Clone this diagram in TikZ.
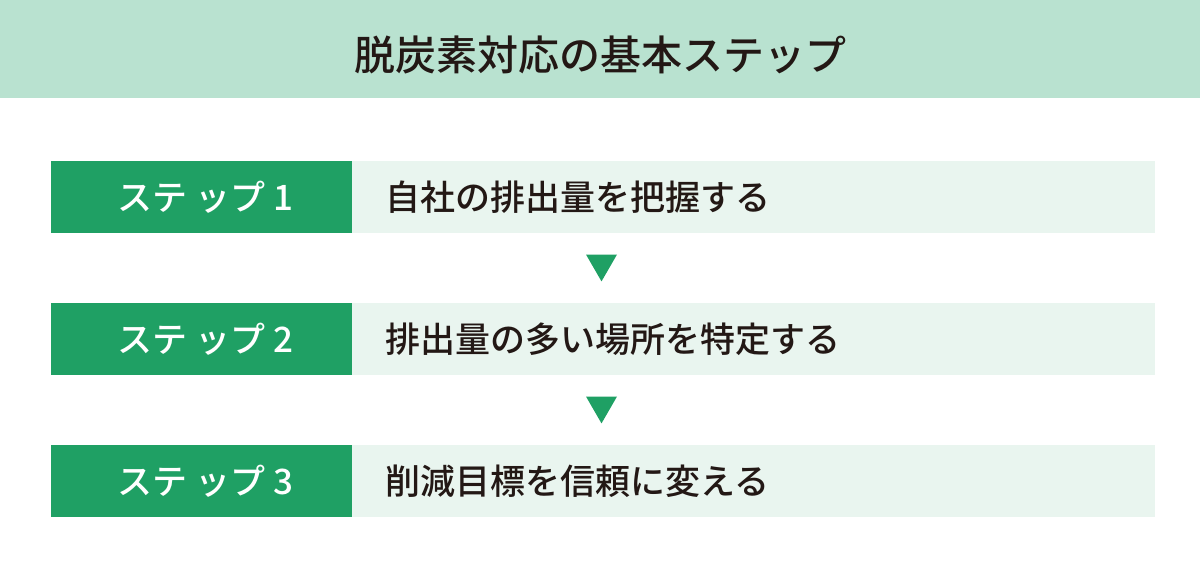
\documentclass[tikz,border=0pt]{standalone}
\usepackage{fontspec}
\setmainfont{Noto Sans CJK JP}[UprightFont=* Medium, BoldFont=* Bold]
\usetikzlibrary{positioning,shapes.geometric}

\definecolor{headgreen}{HTML}{B9E2D0}
\definecolor{stepgreen}{HTML}{1FA064}
\definecolor{palegreen}{HTML}{E9F5EF}
\definecolor{inkdark}{HTML}{231815}

\tikzset{
  stepbox/.style={fill=stepgreen, text=white, minimum width=301pt, minimum height=72pt,
    inner sep=0pt, font=\fontsize{35}{35}\selectfont},
  taskbox/.style={fill=palegreen, text=inkdark, minimum width=803pt, minimum height=72pt,
    inner xsep=33pt, inner ysep=0pt, text width=737pt, align=left,
    font=\fontsize{35}{35}\selectfont},
  downmark/.style={fill=stepgreen, regular polygon, regular polygon sides=3,
    shape border rotate=180, minimum size=35.8pt, inner sep=0pt},
}

\begin{document}
\begin{tikzpicture}[x=1pt,y=-1pt]
    \useasboundingbox (0,0) rectangle (1200,580);
    \fill[headgreen] (0,0) rectangle (1200,98);
    \node[text=inkdark, font=\fontsize{41}{41}\selectfont] (title) at (600,55) {脱炭素対応の基本ステップ};

    \node[stepbox] (step1) at (201.5,197) {\hspace{8pt}ステ ップ 1};
    \node[taskbox, right=0pt of step1] (task1) {自社の排出量を把握する};
    \node[stepbox] (step2) at (201.5,339) {\hspace{8pt}ステ ップ 2};
    \node[taskbox, right=0pt of step2] (task2) {排出量の多い場所を特定する};
    \node[stepbox] (step3) at (201.5,481) {\hspace{8pt}ステ ップ 3};
    \node[taskbox, right=0pt of step3] (task3) {削減目標を信頼に変える};

    \node[downmark] (mark1) at (601.5,263.5) {};
    \node[downmark] (mark2) at (601.5,405.5) {};
\end{tikzpicture}
\end{document}
